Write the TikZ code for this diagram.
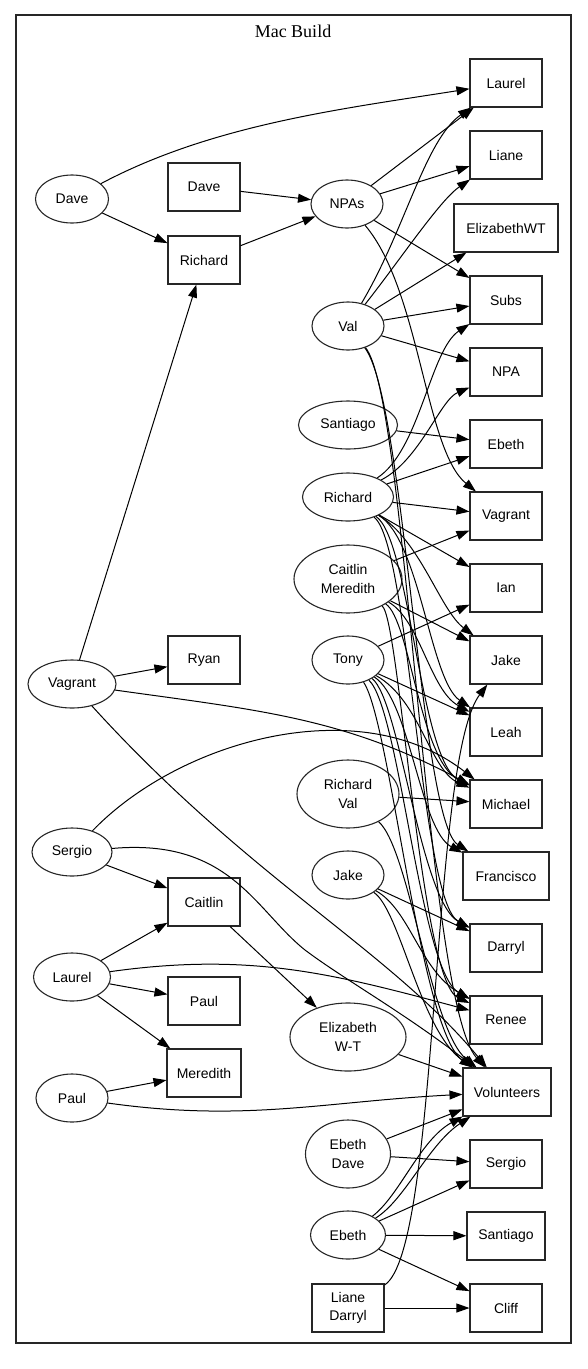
\documentclass[tikz,border=0pt]{standalone}
\usepackage{fontspec}
\setmainfont{Liberation Sans}
\newfontfamily\titlefont{Liberation Serif}
\usetikzlibrary{shapes.geometric,arrows.meta}
\begin{document}
\begin{tikzpicture}[x=1pt,y=-1pt,
  every node/.style={font=\fontsize{14}{18.5}\selectfont, align=center, inner sep=0pt, line width=1.1pt, draw=black!85},
  bx/.style={draw, rectangle, minimum width=72pt, minimum height=48pt},
  el/.style={draw, ellipse, minimum width=72pt, minimum height=48pt},
  el2/.style={draw, ellipse, minimum height=68pt},
  e/.style={line width=1pt, -{Triangle[length=13pt,width=9pt]}}
]
\useasboundingbox (0,0) rectangle (587,1369);
\draw[line width=1.2pt, black!85] (16,15) rectangle (571,1343);
\node[draw=none, font=\titlefont\fontsize{18}{20}\selectfont] (title) at (293,31) {Mac Build};

% left column
\node[el, minimum width=73pt] (lDave) at (72,199) {Dave};
\node[el, minimum width=88pt] (lVagrant) at (72,684) {Vagrant};
\node[el, minimum width=80pt] (lSergio) at (72,852) {Sergio};
\node[el, minimum width=77pt] (lLaurel) at (72,977) {Laurel};
\node[el] (lPaul) at (72,1098) {Paul};
% second column
\node[bx] (bDave) at (204,187) {Dave};
\node[bx] (bRichard) at (204,260) {Richard};
\node[bx] (bRyan) at (204,660) {Ryan};
\node[bx] (bCaitlin) at (204,902) {Caitlin};
\node[bx] (bPaul) at (204,1001) {Paul};
\node[bx, minimum width=74pt] (bMeredith) at (204,1073) {Meredith};
% middle column
\node[el] (mNPAs) at (347,204) {NPAs};
\node[el] (mVal) at (348,326) {Val};
\node[el, minimum width=99pt] (mSantiago) at (348,425) {Santiago};
\node[el, minimum width=91pt] (mRichard) at (348,497) {Richard};
\node[el2, minimum width=108pt] (mCM) at (348,579) {Caitlin\\Meredith};
\node[el] (mTony) at (348,660) {Tony};
\node[el2, minimum width=102pt] (mRV) at (348,794) {Richard\\Val};
\node[el] (mJake) at (348,875) {Jake};
\node[el2, minimum width=116pt] (mEWT) at (348,1037) {Elizabeth\\W-T};
\node[el2, minimum width=85pt] (mEbethDave) at (348,1154) {Ebeth\\Dave};
\node[el, minimum width=75pt] (mEbeth) at (348,1235) {Ebeth};
\node[bx] (mLianeDarryl) at (348,1308) {Liane\\Darryl};
% right column
\node[bx] (rLaurel) at (506,83) {Laurel};
\node[bx] (rLiane) at (506,155) {Liane};
\node[bx, minimum width=104pt] (rEWT) at (506,228) {ElizabethWT};
\node[bx] (rSubs) at (506,300) {Subs};
\node[bx] (rNPA) at (506,372) {NPA};
\node[bx] (rEbeth) at (506,444) {Ebeth};
\node[bx] (rVagrant) at (506,516) {Vagrant};
\node[bx] (rIan) at (506,588) {Ian};
\node[bx] (rJake) at (506,660) {Jake};
\node[bx] (rLeah) at (506,732) {Leah};
\node[bx] (rMichael) at (506,804) {Michael};
\node[bx, minimum width=86pt] (rFrancisco) at (506,876) {Francisco};
\node[bx] (rDarryl) at (506,948) {Darryl};
\node[bx] (rRenee) at (506,1020) {Renee};
\node[bx, minimum width=88pt] (rVolunteers) at (507,1092) {Volunteers};
\node[bx] (rSergio) at (506,1164) {Sergio};
\node[bx, minimum width=78pt] (rSantiago) at (506,1236) {Santiago};
\node[bx] (rCliff) at (506,1308) {Cliff};
\coordinate (vagBend) at (310,945);
\coordinate (serBend) at (305,950);

% left edges
\draw[e] (lDave) to[out=28,in=189,looseness=0.85] (rLaurel);
\draw[e] (lDave) -- (bRichard);
\draw[e] (bDave) -- (mNPAs);
\draw[e] (bRichard) -- (mNPAs);
\draw[e] (lVagrant) -- (bRichard);
\draw[e] (lVagrant) -- (bRyan);
\draw[e] (lVagrant) to[out=-8,in=152] (rMichael);
\draw[e] (lVagrant) .. controls (250,880) and (390,950) .. (rVolunteers);
\draw[e] (lSergio) .. controls (180,740) and (360,690) .. (rMichael);
\draw[e] (lSergio) .. controls (230,838) and (255,910) .. (serBend) .. controls (345,980) and (400,1010) .. (rVolunteers);
\draw[e] (lSergio) -- (bCaitlin);
\draw[e] (bCaitlin) -- (mEWT);
\draw[e] (lLaurel) -- (bCaitlin);
\draw[e] (lLaurel) -- (bPaul);
\draw[e] (lLaurel) -- (bMeredith);
\draw[e] (lLaurel) to[out=8,in=165] (rRenee);
\draw[e] (lPaul) -- (bMeredith);
\draw[e] (lPaul) to[out=-8,in=183] (rVolunteers);

% NPAs
\draw[e] (mNPAs) -- (rLaurel);
\draw[e] (mNPAs) -- (rLiane);
\draw[e] (mNPAs) -- (rSubs);
\draw[e] (mNPAs) .. controls (420,290) and (425,450) .. (rVagrant);
% Val
\draw[e] (mVal) .. controls (405,230) and (425,140) .. (rLaurel);
\draw[e] (mVal) .. controls (400,260) and (440,200) .. (rLiane);
\draw[e] (mVal) -- (rEWT);
\draw[e] (mVal) -- (rSubs);
\draw[e] (mVal) -- (rNPA);
\draw[e] (mVal) .. controls (405,400) and (420,820) .. (rFrancisco);
\draw[e] (mVal) .. controls (408,400) and (425,1000) .. (rVolunteers);
% Santiago
\draw[e] (mSantiago) -- (rEbeth);
% Richard
\draw[e] (mRichard) .. controls (420,450) and (430,350) .. (rSubs);
\draw[e] (mRichard) .. controls (420,460) and (440,400) .. (rNPA);
\draw[e] (mRichard) -- (rEbeth);
\draw[e] (mRichard) -- (rVagrant);
\draw[e] (mRichard) -- (rIan);
\draw[e] (mRichard) .. controls (420,540) and (440,610) .. (rJake);
\draw[e] (mRichard) .. controls (420,540) and (430,680) .. (rLeah);
\draw[e] (mRichard) .. controls (410,540) and (420,760) .. (rMichael);
\draw[e] (mRichard) .. controls (410,545) and (420,900) .. (rDarryl);
% Caitlin Meredith
\draw[e] (mCM) -- (rVagrant);
\draw[e] (mCM) -- (rJake);
\draw[e] (mCM) .. controls (420,620) and (430,690) .. (rLeah);
\draw[e] (mCM) .. controls (410,620) and (420,760) .. (rMichael);
\draw[e] (mCM) .. controls (400,620) and (420,980) .. (rRenee);
% Tony
\draw[e] (mTony) -- (rIan);
\draw[e] (mTony) -- (rLeah);
\draw[e] (mTony) .. controls (420,700) and (430,770) .. (rMichael);
\draw[e] (mTony) .. controls (410,700) and (420,830) .. (rFrancisco);
\draw[e] (mTony) .. controls (400,700) and (420,900) .. (rDarryl);
\draw[e] (mTony) .. controls (400,710) and (420,970) .. (rRenee);
\draw[e] (mTony) .. controls (390,720) and (420,1030) .. (rVolunteers);
% Richard Val
\draw[e] (mRV) -- (rMichael);
\draw[e] (mRV) .. controls (410,850) and (430,1030) .. (rVolunteers);
% Jake
\draw[e] (mJake) -- (rDarryl);
\draw[e] (mJake) .. controls (410,910) and (420,970) .. (rRenee);
\draw[e] (mJake) .. controls (400,910) and (420,1030) .. (rVolunteers);
% bottom
\draw[e] (mEWT) -- (rVolunteers);
\draw[e] (mEbethDave) -- (rVolunteers);
\draw[e] (mEbethDave) -- (rSergio);
\draw[e] (mEbeth) .. controls (400,1195) and (420,1140) .. (rVolunteers);
\draw[e] (mEbeth) .. controls (405,1200) and (428,1145) .. (rVolunteers);
\draw[e] (mEbeth) -- (rSergio);
\draw[e] (mEbeth) -- (rSantiago);
\draw[e] (mEbeth) -- (rCliff);
\draw[e] (mLianeDarryl) -- (rCliff);
\draw[e] (mLianeDarryl) .. controls (440,1250) and (430,760) .. (rJake);
\end{tikzpicture}
\end{document}
